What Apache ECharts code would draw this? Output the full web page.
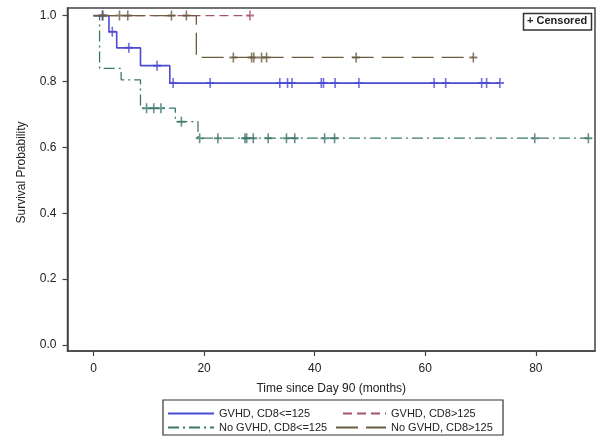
<!DOCTYPE html>
<html>
<head>
<meta charset="utf-8">
<script src="https://cdn.jsdelivr.net/npm/echarts@6/dist/echarts.min.js"></script>
<style>
  html, body { margin: 0; padding: 0; background: #fff; }
  #chart { width: 600px; height: 437px; }
</style>
</head>
<body>
<div id="chart"></div>
<script>
// step curves: time where each level starts, and the level
const gvhdLowTimes = [0, 2.8, 4.2, 8.5, 13.8, 73.5]
const gvhdLowSurv = [1.0, 0.951, 0.902, 0.848, 0.795, 0.795]
const gvhdLowCens = [1.6, 3.4, 6.4, 11.5, 14.4, 21.1, 33.7, 35.1, 35.9, 41.2, 41.6, 43.7, 48.0, 61.6, 63.7, 70.2, 71.1, 73.5]

const gvhdHighTimes = [0, 28.3]
const gvhdHighSurv = [1.0, 1.0]
const gvhdHighCens = [28.3]

const noGvhdLowTimes = [0, 1.1, 5.0, 8.5, 14.8, 18.9, 89.5]
const noGvhdLowSurv = [1.0, 0.840, 0.805, 0.719, 0.678, 0.628, 0.628]
const noGvhdLowCens = [9.6, 10.9, 12.2, 15.9, 19.2, 22.5, 27.4, 27.7, 28.9, 31.6, 34.9, 36.4, 41.8, 43.6, 79.8, 89.5]

const noGvhdHighTimes = [0, 18.6, 68.7]
const noGvhdHighSurv = [1.0, 0.873, 0.873]
const noGvhdHighCens = [1.7, 4.7, 6.2, 14.1, 16.8, 25.3, 28.6, 29.0, 30.4, 31.3, 47.5, 68.7]

const xTicks = [0, 20, 40, 60, 80]
const yTicks = [0, 0.2, 0.4, 0.6, 0.8, 1.0]

const groupNames = ['GVHD, CD8<=125', 'GVHD, CD8>125', 'No GVHD, CD8<=125', 'No GVHD, CD8>125']

const FONT = 'Liberation Sans'
const PLUS = 'path://M4,0h2v4h4v2h-4v4h-2v-4h-4v-2h4z'

const pairs = (times, surv) => times.map((t, i) => [t, surv[i]])

// level of the step curve at time t
const levelAt = (times, surv, t) => {
  let s = surv[0]
  for (let i = 0; i < times.length; i++) {
    if (times[i] <= t) s = surv[i]
  }
  return s
}

const groups = [
  { times: gvhdLowTimes, surv: gvhdLowSurv, cens: gvhdLowCens, color: '#4a4ad4', width: 1.6, dash: 'solid' },
  { times: gvhdHighTimes, surv: gvhdHighSurv, cens: gvhdHighCens, color: '#a65566', width: 1.3, dash: [9, 5] },
  { times: noGvhdLowTimes, surv: noGvhdLowSurv, cens: noGvhdLowCens, color: '#3d776c', width: 1.3, dash: [11, 4, 2, 4] },
  { times: noGvhdHighTimes, surv: noGvhdHighSurv, cens: noGvhdHighCens, color: '#6c5c40', width: 1.3, dash: [22, 8] }
]

const series = []
groups.forEach((g, i) => {
  series.push({
    name: groupNames[i],
    type: 'line',
    step: 'end',
    symbol: 'none',
    data: pairs(g.times, g.surv),
    lineStyle: { color: g.color, width: g.width, type: g.dash },
    itemStyle: { color: g.color },
    z: 2 + i
  })
  series.push({
    name: groupNames[i] + ' censored',
    type: 'scatter',
    symbol: PLUS,
    symbolSize: [8, 10],
    data: g.cens.map(t => [t, levelAt(g.times, g.surv, t)]),
    itemStyle: { color: g.color },
    z: 3 + i
  })
})

const legendPos = [
  { left: 167, top: 408, itemWidth: 46 },
  { left: 342, top: 408, itemWidth: 43 },
  { left: 167, top: 422, itemWidth: 46 },
  { left: 335, top: 422, itemWidth: 50 }
]

const axisColor = '#444'

const chart = echarts.init(document.getElementById('chart'))
chart.setOption({
  animation: false,
  backgroundColor: '#fff',
  textStyle: { fontFamily: FONT },
  grid: {
    left: 67.5, right: 5, top: 8, bottom: 86,
    show: true, borderColor: axisColor, borderWidth: 1.5
  },
  legend: legendPos.map((p, i) => ({
    data: [groupNames[i]],
    left: p.left,
    top: p.top,
    itemWidth: p.itemWidth,
    itemHeight: 10,
    itemGap: 0,
    padding: 0,
    selectedMode: false,
    itemStyle: { opacity: 0 },
    textStyle: { fontFamily: FONT, fontSize: 11, color: '#222' }
  })),
  xAxis: {
    type: 'value',
    min: -4.7,
    max: 90.7,
    name: 'Time since Day 90 (months)',
    nameLocation: 'middle',
    nameGap: 32,
    nameTextStyle: { fontFamily: FONT, fontSize: 12, color: '#222' },
    axisLine: { onZero: false, lineStyle: { color: axisColor, width: 1.5 } },
    axisTick: { customValues: xTicks, length: 5, lineStyle: { color: axisColor, width: 1.2 } },
    axisLabel: { customValues: xTicks, margin: 12, fontFamily: FONT, fontSize: 12, color: '#222' },
    splitLine: { show: false }
  },
  yAxis: {
    type: 'value',
    min: -0.018,
    max: 1.023,
    name: 'Survival Probability',
    nameLocation: 'middle',
    nameGap: 40,
    nameTextStyle: { fontFamily: FONT, fontSize: 12, color: '#222', padding: [0, 0, 0, 14] },
    axisLine: { show: true, onZero: false, lineStyle: { color: axisColor, width: 1.5 } },
    axisTick: { customValues: yTicks, length: 5, lineStyle: { color: axisColor, width: 1.2 } },
    axisLabel: {
      customValues: yTicks, margin: 11, fontFamily: FONT, fontSize: 12, color: '#222',
      formatter: v => v.toFixed(1)
    },
    splitLine: { show: false }
  },
  graphic: [
    {
      type: 'rect',
      shape: { x: 163, y: 400, width: 340, height: 35 },
      style: { fill: 'none', stroke: '#333', lineWidth: 1.2 },
      silent: true
    },
    {
      type: 'rect',
      shape: { x: 523.5, y: 13.5, width: 68, height: 16.5 },
      style: { fill: '#fff', stroke: '#333', lineWidth: 1.5 },
      silent: true
    },
    {
      type: 'text',
      left: 527,
      top: 15.5,
      style: { text: '+ Censored', font: 'bold 11px "Liberation Sans"', fill: '#222' },
      silent: true
    }
  ],
  series: series
})
</script>
</body>
</html>
